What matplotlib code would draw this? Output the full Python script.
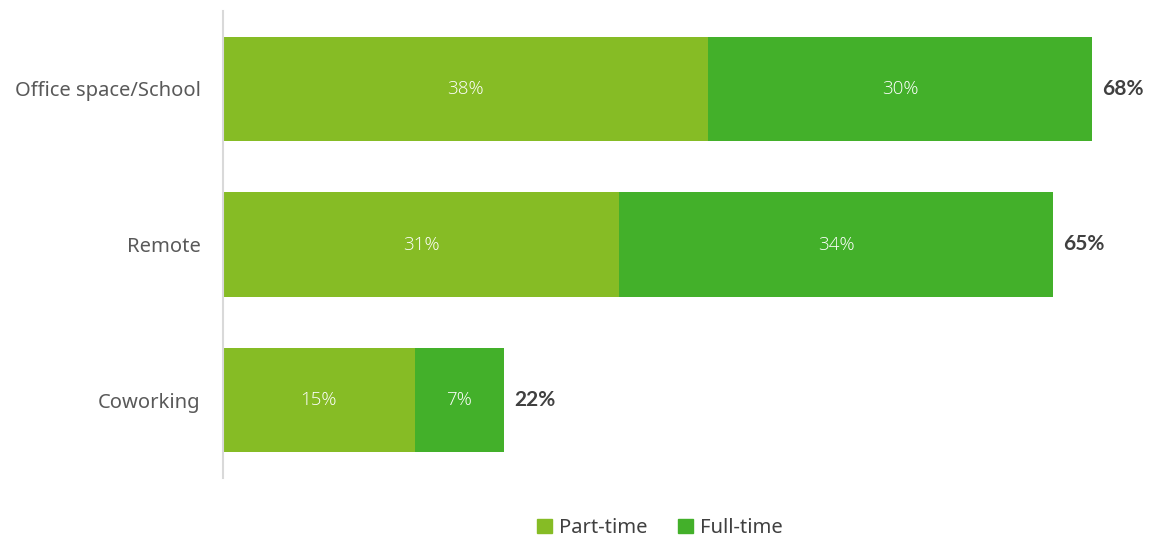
import matplotlib
matplotlib.use("Agg")
import matplotlib.pyplot as plt
from matplotlib.patches import Patch

categories = ["Office space/School", "Remote", "Coworking"]
part_time = [38, 31, 15]
full_time = [30, 34, 7]
series_names = ["Part-time", "Full-time"]

c_part = "#86BC25"
c_full = "#43B02A"
font = ["Noto Sans", "DejaVu Sans"]
plt.rcParams['font.family'] = font

fig = plt.figure(figsize=(11.49, 5.42), dpi=100)
ax = fig.add_axes([223/1149, 1-478/542, (1149-223)/1149, (478-11)/542])

y = list(range(len(categories)))
h = 0.67
ax.barh(y, part_time, height=h, color=c_part, label=series_names[0])
ax.barh(y, full_time, left=part_time, height=h, color=c_full, label=series_names[1])

inner_font = ["Open Sans", "DejaVu Sans"]
total_font = ["Lato", "DejaVu Sans"]
for i in y:
    ax.text(part_time[i] / 2, i, f"{part_time[i]}%", ha="center", va="center",
            color="white", fontsize=13.5, fontweight="light", family=inner_font)
    ax.text(part_time[i] + full_time[i] / 2, i, f"{full_time[i]}%", ha="center",
            va="center", color="white", fontsize=13.5, fontweight="light",
            family=inner_font)
    tot = part_time[i] + full_time[i]
    ax.text(tot + 0.8, i, f"{tot}%", ha="left", va="center", color="#404040",
            fontsize=15, fontweight="bold", family=total_font)

ax.set_xlim(0, 72.5)
ax.set_ylim(2.5, -0.5)
ax.set_yticks(y)
ax.set_yticklabels(categories, fontsize=14.5, color="#595959")
ax.tick_params(axis="y", length=0, pad=16)
ax.set_xticks([])
for s in ["top", "right", "bottom"]:
    ax.spines[s].set_visible(False)
ax.spines["left"].set_color("#D9D9D9")
ax.spines["left"].set_linewidth(1.5)

handles = [Patch(color=c_part), Patch(color=c_full)]
fig.legend(handles, series_names, loc="center", bbox_to_anchor=(660/1149, 1-528/542),
           ncol=2, frameon=False, fontsize=14.5, handlelength=0.75, handleheight=0.75,
           handletextpad=0.35, columnspacing=1.5, labelcolor="#404040")

fig.savefig("out.png", dpi=100)
